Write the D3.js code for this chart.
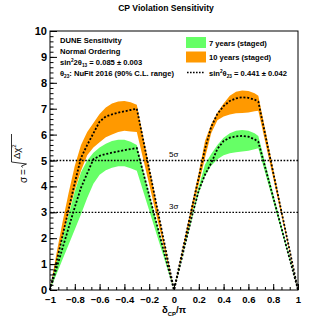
<!DOCTYPE html>
<html>
<head>
<meta charset="utf-8">
<script src="https://cdn.jsdelivr.net/npm/d3@7"></script>
<style>
  body { margin: 0; background: #fff; }
  text { font-family: "Liberation Sans", Arial, Helvetica, sans-serif; }
</style>
</head>
<body>
<div id="grafico"></div>
<script>
// delta_CP / pi grid shared by every curve
const delta = [-1, -0.95, -0.9, -0.85, -0.8, -0.75, -0.7, -0.65, -0.6, -0.55, -0.5, -0.45, -0.4, -0.35, -0.3, -0.2, -0.1,
  0, 0.05, 0.1, 0.15, 0.2, 0.25, 0.3, 0.35, 0.4, 0.45, 0.5, 0.55, 0.6, 0.65, 0.68, 0.8, 0.9, 1];

// 10 years (staged) band and central value
const diezAlto = [0, 1.35, 2.6, 3.75, 4.8, 5.6, 6.1, 6.45, 6.8, 7.05, 7.2, 7.28, 7.3, 7.25, 7.15, 4.77, 2.38,
  0, 1.15, 2.3, 3.45, 4.55, 5.75, 6.4, 6.85, 7.2, 7.5, 7.65, 7.7, 7.68, 7.6, 7.5, 4.69, 2.34, 0];
const diezBajo = [0, 1.0, 2.0, 2.95, 3.85, 4.6, 5.2, 5.5, 5.7, 5.9, 6.0, 6.1, 6.15, 6.12, 6.1, 4.07, 2.03,
  0, 1.03, 2.06, 3.08, 4.1, 5.1, 6.05, 6.55, 6.7, 6.78, 6.82, 6.83, 6.85, 6.9, 6.92, 4.32, 2.16, 0];
const diezCentro = [0, 1.03, 2.07, 3.1, 4.14, 5.1, 5.6, 6.05, 6.5, 6.7, 6.78, 6.85, 6.9, 6.95, 7.0, 4.67, 2.33,
  0, 1.1, 2.2, 3.3, 4.35, 5.45, 6.3, 6.8, 7.1, 7.3, 7.4, 7.44, 7.42, 7.35, 7.27, 4.54, 2.27, 0];

// 7 years (staged) band and central value
const sieteAlto = [0, 1.0, 2.0, 2.9, 3.8, 4.55, 5.0, 5.3, 5.5, 5.65, 5.75, 5.8, 5.8, 5.72, 5.6, 3.73, 1.87,
  0, 1.0, 2.0, 3.0, 4.0, 4.85, 5.25, 5.6, 5.88, 6.05, 6.15, 6.18, 6.15, 6.05, 5.95, 3.72, 1.86, 0];
const sieteBajo = [0, 0.58, 1.17, 1.75, 2.34, 2.92, 3.55, 4.1, 4.45, 4.62, 4.72, 4.78, 4.78, 4.7, 4.6, 3.07, 1.53,
  0, 0.95, 1.9, 2.85, 3.75, 4.4, 4.8, 5.05, 5.2, 5.28, 5.32, 5.35, 5.38, 5.43, 5.47, 3.42, 1.71, 0];
const sieteCentro = [0, 0.8, 1.6, 2.4, 3.2, 3.95, 4.5, 5.05, 5.18, 5.25, 5.3, 5.35, 5.4, 5.44, 5.48, 3.65, 1.83,
  0, 0.98, 1.97, 2.95, 3.85, 4.45, 4.9, 5.45, 5.75, 5.88, 5.93, 5.95, 5.92, 5.82, 5.72, 3.58, 1.79, 0];

const niveles = [5, 3];
const ticksX = [-1, -0.8, -0.6, -0.4, -0.2, 0, 0.2, 0.4, 0.6, 0.8, 1];
const ticksY = [0, 1, 2, 3, 4, 5, 6, 7, 8, 9, 10];

const verde = "#66ff66", naranja = "#ff9900", negro = "#000";
const izq = 50, der = 298, arriba = 31, abajo = 290;

const x = d3.scaleLinear().domain([-1, 1]).range([izq, der]);
const y = d3.scaleLinear().domain([0, 10]).range([abajo, arriba]);

const $svg = d3.select("#grafico").append("svg")
  .attr("width", 332).attr("height", 323);

$svg.append("rect").attr("width", 332).attr("height", 323).attr("fill", "#fff");

// texto con super/subíndices: partes = [[texto, "sup"|"sub"|""], ...]
const textoRico = (g, px, py, partes, tam, peso = "bold") => {
  const t = g.append("text").attr("x", px).attr("y", py)
    .attr("font-size", tam).attr("font-weight", peso).attr("fill", negro);
  let desplazado = 0;
  partes.forEach(([s, modo]) => {
    const objetivo = modo === "sup" ? -tam * 0.38 : modo === "sub" ? tam * 0.28 : 0;
    t.append("tspan")
      .attr("dy", objetivo - desplazado)
      .attr("font-size", modo ? tam * 0.62 : tam)
      .text(s);
    desplazado = objetivo;
  });
  return t;
};

const puntos = delta.map((d, i) => i);
const banda = (bajo, alto) => d3.area()
  .x(i => x(delta[i])).y0(i => y(bajo[i])).y1(i => y(alto[i]));
const linea = valores => d3.line().x(i => x(delta[i])).y(i => y(valores[i]));

$svg.append("path").attr("d", banda(diezBajo, diezAlto)(puntos)).attr("fill", naranja);
$svg.append("path").attr("d", banda(sieteBajo, sieteAlto)(puntos)).attr("fill", verde);

// líneas de 5 sigma y 3 sigma
niveles.forEach(n => {
  $svg.append("line")
    .attr("x1", x(-1)).attr("x2", x(1)).attr("y1", y(n)).attr("y2", y(n))
    .attr("stroke", negro).attr("stroke-width", 1.3).attr("stroke-dasharray", "1.6,1.6");
  textoRico($svg, x(-0.04), y(n) - 3.5, [[String(n), ""], ["σ", ""]], 8, "normal");
});

[diezCentro, sieteCentro].forEach(v => {
  $svg.append("path").attr("d", linea(v)(puntos))
    .attr("fill", "none").attr("stroke", negro)
    .attr("stroke-width", 1.8).attr("stroke-dasharray", "2,1.8");
});

// marco
$svg.append("rect")
  .attr("x", izq).attr("y", arriba).attr("width", der - izq).attr("height", abajo - arriba)
  .attr("fill", "none").attr("stroke", negro).attr("stroke-width", 1);

// ejes
const ejeY = $svg.append("g").attr("transform", `translate(${izq},0)`)
  .call(d3.axisLeft(y).tickValues(ticksY).tickSize(-7).tickPadding(3).tickFormat(d3.format("d")));
$svg.append("g").attr("transform", `translate(${izq},0)`)
  .call(d3.axisLeft(y).tickValues(d3.range(0, 50).map(i => i * 0.2)).tickSize(-3.5).tickFormat(""));

const ejeX = $svg.append("g").attr("transform", `translate(0,${abajo})`)
  .call(d3.axisBottom(x).tickValues(ticksX).tickSize(-6).tickPadding(6).tickFormat(d3.format("~g")));
$svg.append("g").attr("transform", `translate(0,${abajo})`)
  .call(d3.axisBottom(x).tickValues(d3.range(0, 31).map(i => -1 + i * 0.2 / 3)).tickSize(-3).tickFormat(""));

$svg.selectAll(".domain").remove();
$svg.selectAll(".tick line").attr("stroke", negro);
ejeY.selectAll("text").attr("font-size", 11).attr("font-weight", "bold").attr("fill", negro);
ejeX.selectAll("text").attr("font-size", 9.5).attr("font-weight", "bold").attr("fill", negro);

// título
$svg.append("text").attr("x", 166).attr("y", 11).attr("text-anchor", "middle")
  .attr("font-size", 8.6).attr("font-weight", "bold").text("CP Violation Sensitivity");

// título eje x
const tituloX = textoRico($svg, 174, 313, [["δ", ""], ["CP", "sub"], ["/π", ""]], 9.5, "bold");
tituloX.attr("text-anchor", "middle");

// título eje y: σ = sqrt(Δχ²)
const gY = $svg.append("g").attr("transform", "translate(20,156) rotate(-90)");
gY.append("text").attr("x", -27).attr("y", 6.5).attr("font-size", 10).text("σ");
gY.append("text").attr("x", -19).attr("y", 6.5).attr("font-size", 10).text("=");
gY.append("path").attr("d", "M-11.5,2.5 L-10,1.5 L-8,6.5 L-6,-8.5 L22,-8.5")
  .attr("fill", "none").attr("stroke", negro).attr("stroke-width", 0.8);
textoRico(gY, -3, -0.5, [["Δχ", ""], ["2", "sup"]], 9.5, "normal");

// textos de la izquierda
const info = $svg.append("g");
textoRico(info, 60, 43, [["DUNE Sensitivity", ""]], 7.6);
textoRico(info, 60, 54, [["Normal Ordering", ""]], 7.6);
textoRico(info, 60, 65, [["sin", ""], ["2", "sup"], ["2θ", ""], ["13", "sub"], [" = 0.085  ± 0.003", ""]], 7.6);
textoRico(info, 60, 75.5, [["θ", ""], ["23", "sub"], [": NuFit 2016 (90% C.L. range)", ""]], 7.6);

// leyenda
const leyenda = $svg.append("g");
leyenda.append("rect").attr("x", 186).attr("y", 37).attr("width", 20).attr("height", 11).attr("fill", verde);
leyenda.append("rect").attr("x", 186).attr("y", 51.5).attr("width", 20).attr("height", 11).attr("fill", naranja);
leyenda.append("line").attr("x1", 187).attr("x2", 204).attr("y1", 72.5).attr("y2", 72.5)
  .attr("stroke", negro).attr("stroke-width", 1.5).attr("stroke-dasharray", "1.6,1.4");
textoRico(leyenda, 209, 45.5, [["7 years (staged)", ""]], 7.6);
textoRico(leyenda, 209, 60, [["10 years (staged)", ""]], 7.6);
textoRico(leyenda, 209, 75.5, [["sin", ""], ["2", "sup"], ["θ", ""], ["23", "sub"], [" = 0.441 ± 0.042", ""]], 7.6);
</script>
</body>
</html>
